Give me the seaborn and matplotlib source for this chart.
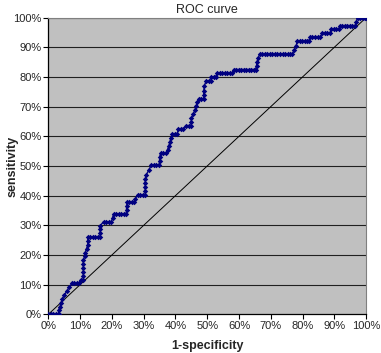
import matplotlib
matplotlib.use("Agg")
import matplotlib.pyplot as plt
import seaborn as sns
import pandas as pd

# ROC points (percent)
fpr = [0, 0.8, 1.6, 2.4, 3.2,
       3.2, 3.7, 4.0, 4.4, 5.0, 5.8, 6.5, 7.4,
       8.2, 9.0, 9.7,
       10.2, 11.0,
       11.0, 11.0, 11.0, 11.0, 11.0,
       11.4, 11.6, 12.0, 12.4, 12.4, 12.4,
       13.2, 14.0, 14.8, 15.5, 16.3,
       16.3, 16.3, 16.3,
       17.4, 18.2, 19.0, 19.8,
       20.2, 20.5, 21.3, 22.1, 22.9, 23.7, 24.5,
       24.6, 24.6, 24.8, 25.5, 26.2, 26.9,
       27.4, 28.1, 28.9, 29.7, 30.5,
       30.5, 30.5, 30.5, 30.5, 30.8, 31.6, 32.4, 33.2, 34.0, 34.8,
       35.0, 35.0, 35.3, 36.1, 36.9,
       37.5, 37.9, 38.3, 38.5, 39.0, 39.8, 40.5,
       40.9, 41.7, 42.5, 43.3, 44.1, 44.9,
       45.0, 45.0, 45.6, 46.1, 46.5, 46.9, 47.3, 48.1, 48.9,
       48.9, 48.9, 49.1, 49.7, 50.4, 51.2,
       51.2, 52.0, 52.6,
       53.1, 53.9, 54.7, 55.5, 56.3, 57.1, 57.9,
       58.3, 59.1, 59.9, 60.7, 61.5, 62.3, 63.1, 63.9, 64.7, 65.2,
       65.5, 65.7, 66.0, 66.5,
       67.3, 68.1, 68.9, 69.7, 70.5, 71.3, 72.1, 72.9, 73.7, 74.5, 75.3, 76.1, 76.8,
       77.3, 78.0, 78.3, 79.1, 79.9, 80.7, 81.4, 82.0,
       82.3, 83.1, 83.9, 84.7, 85.5,
       86.2, 87.0, 87.8, 88.6,
       89.0, 89.8, 90.6, 91.4,
       91.7, 92.5, 93.3, 94.1, 94.9, 95.7, 96.5,
       96.9, 97.3, 98.1, 98.9, 99.7, 100]
tpr = [0, 0, 0, 0, 0,
       1.3, 2.6, 3.9, 5.2, 6.5, 7.8, 9.1, 10.4,
       10.4, 10.4, 10.4,
       11.7, 11.7,
       13.0, 14.3, 15.6, 16.9, 18.2,
       19.5, 20.8, 22.1, 23.4, 24.7, 26.0,
       26.0, 26.0, 26.0, 26.0, 26.0,
       27.3, 28.6, 29.9,
       31.2, 31.2, 31.2, 31.2,
       32.5, 33.8, 33.8, 33.8, 33.8, 33.8, 33.8,
       35.1, 36.4, 37.7, 37.7, 37.7, 37.7,
       39.0, 40.3, 40.3, 40.3, 40.3,
       41.6, 42.9, 44.2, 45.5, 47.0, 48.6, 50.3, 50.3, 50.3, 50.3,
       51.6, 52.9, 54.2, 54.2, 54.2,
       55.5, 56.8, 58.1, 59.4, 60.7, 60.7, 60.7,
       62.3, 62.3, 62.3, 63.6, 63.6, 63.6,
       64.9, 66.2, 67.5, 68.8, 70.1, 71.4, 72.7, 72.7, 72.7,
       74.0, 75.3, 77.1, 78.7, 78.7, 78.7,
       80.0, 80.0, 80.0,
       81.2, 81.2, 81.2, 81.2, 81.2, 81.2, 81.2,
       82.5, 82.5, 82.5, 82.5, 82.5, 82.5, 82.5, 82.5, 82.5, 82.5,
       83.8, 85.1, 86.4, 87.7,
       87.7, 87.7, 87.7, 87.7, 87.7, 87.7, 87.7, 87.7, 87.7, 87.7, 87.7, 87.7, 87.7,
       89.0, 90.5, 92.0, 92.0, 92.0, 92.0, 92.0, 92.0,
       93.4, 93.4, 93.4, 93.4, 93.4,
       94.7, 94.7, 94.7, 94.7,
       96.0, 96.0, 96.0, 96.0,
       97.3, 97.3, 97.3, 97.3, 97.3, 97.3, 97.3,
       98.6, 100, 100, 100, 100, 100]

ticks = list(range(0, 101, 10))
tick_labels = [f"{t}%" for t in ticks]

df = pd.DataFrame({"fpr": fpr, "tpr": tpr})

sns.set_style("white")
plt.rcParams["font.family"] = ["Liberation Sans", "DejaVu Sans"]

fig = plt.figure(figsize=(3.81, 3.53), dpi=100)
ax = fig.add_axes([0.127, 0.1096, 0.834, 0.8406])
ax.set_facecolor("#c0c0c0")

# horizontal gridlines
for t in ticks[1:]:
    ax.axhline(t, color="#202020", lw=0.8, zorder=1)

# reference diagonal
ax.plot([0, 100], [0, 100], color="black", lw=0.7, zorder=2)

sns.lineplot(data=df, x="fpr", y="tpr", sort=False, estimator=None,
             color="#000080", lw=1.0, marker="D", markersize=2.8,
             markeredgewidth=0, ax=ax, zorder=3)

ax.set_xlim(0, 100)
ax.set_ylim(0, 100)
ax.set_xticks(ticks)
ax.set_xticklabels(tick_labels)
ax.set_yticks(ticks)
ax.set_yticklabels(tick_labels)
ax.tick_params(axis="both", labelsize=8, length=3.5, width=0.8, color="black",
               direction="out", pad=1.5, bottom=True, left=True)

for side in ["left", "bottom"]:
    ax.spines[side].set_color("black")
    ax.spines[side].set_linewidth(0.9)
for side in ["top", "right"]:
    ax.spines[side].set_color("#808080")
    ax.spines[side].set_linewidth(0.8)

ax.set_title("ROC curve", fontsize=9, pad=3)
ax.set_xlabel("1-specificity", fontsize=9, fontweight="bold", va="center")
ax.set_ylabel("sensitivity", fontsize=9, fontweight="bold", va="center")
ax.xaxis.set_label_coords(0.5, -0.108)
ax.yaxis.set_label_coords(-0.114, 0.5)

fig.savefig("out.png", dpi=100)
